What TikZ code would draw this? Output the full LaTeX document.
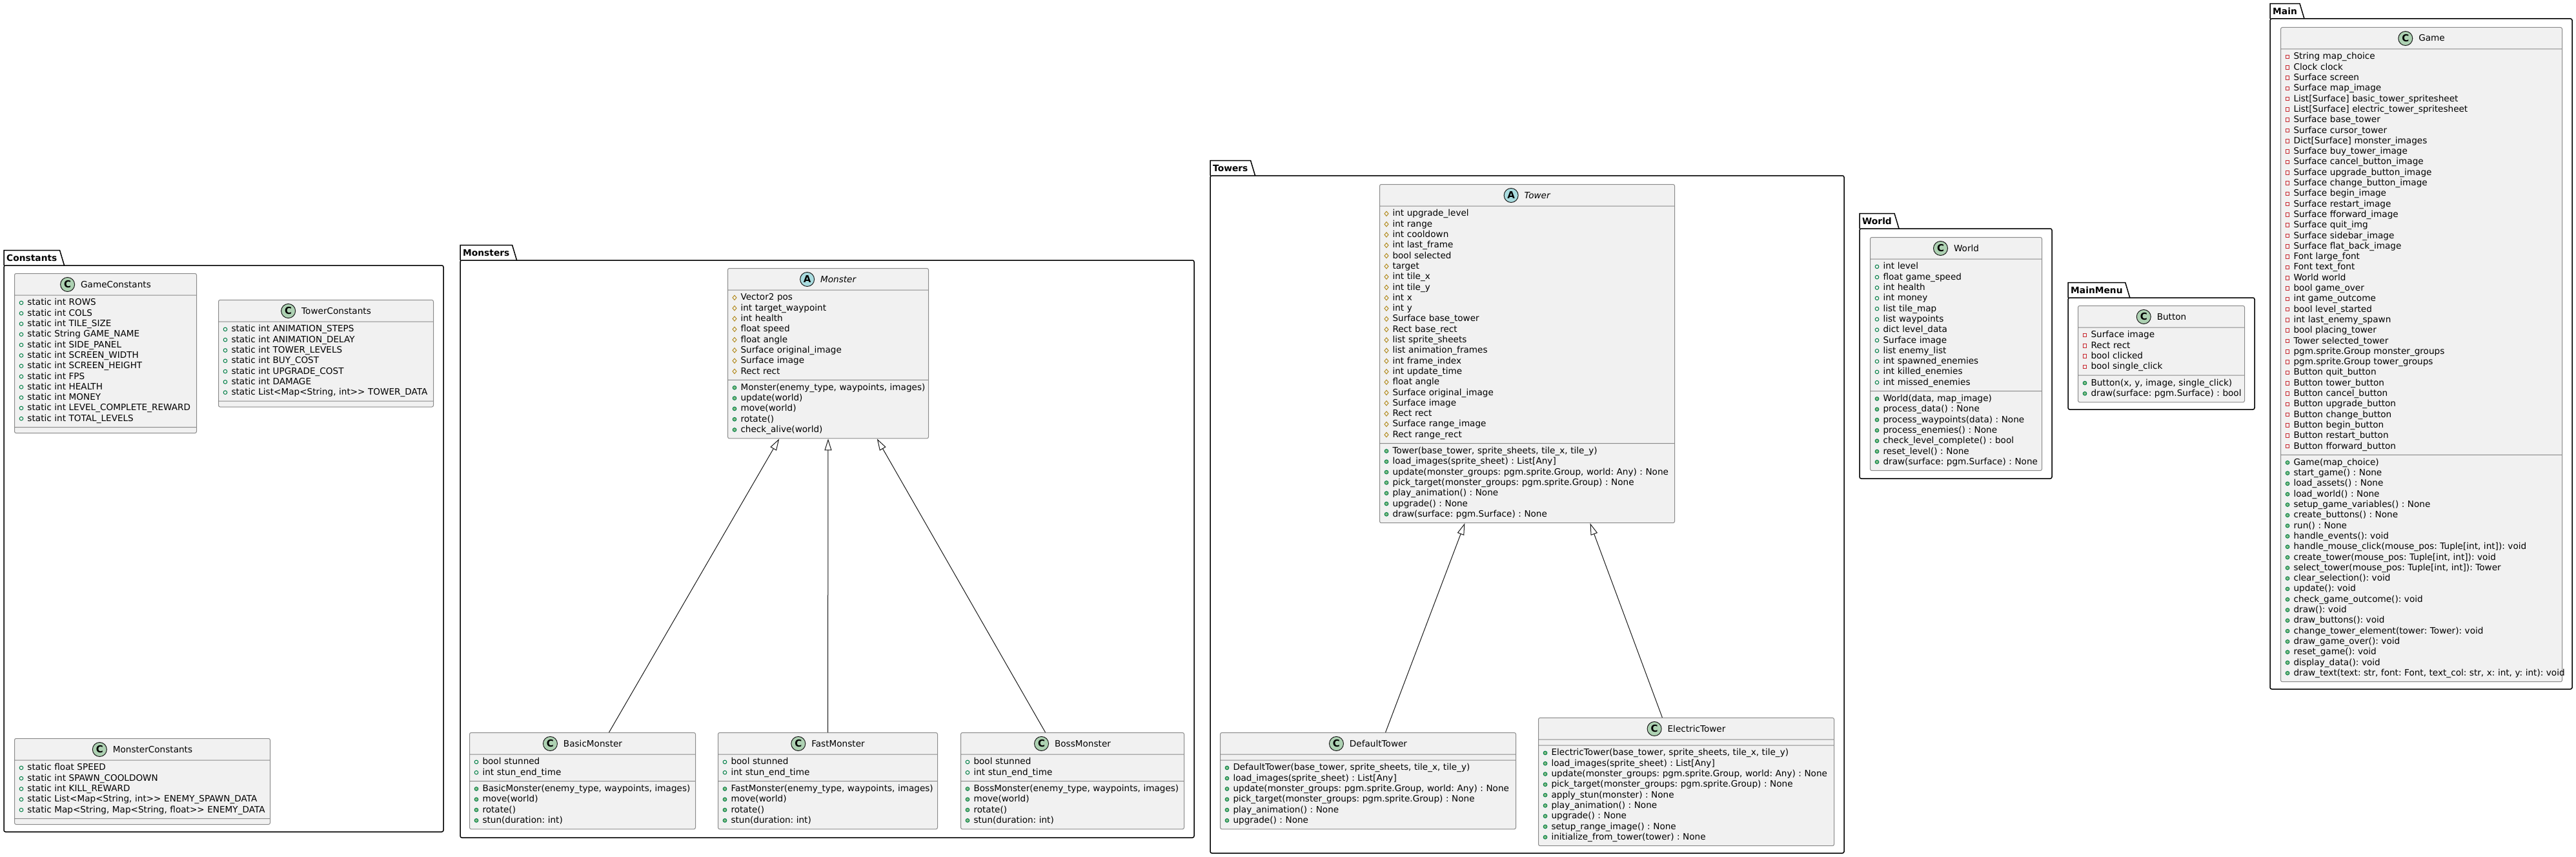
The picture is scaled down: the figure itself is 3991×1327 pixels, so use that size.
\documentclass[tikz,border=0pt]{standalone}
\usepackage{fontspec}
\setmainfont{DejaVu Sans}
\usepackage{xcolor}
\usetikzlibrary{shapes.multipart, arrows.meta, calc}
\frenchspacing
\definecolor{clsfill}{HTML}{F1F1F1}
\definecolor{clsline}{HTML}{181818}
\definecolor{clsedge}{HTML}{8A8A8A}
\definecolor{iconC}{HTML}{ADD1B2}
\definecolor{iconA}{HTML}{A9DCDF}
\definecolor{publine}{HTML}{038048}
\definecolor{pubfill}{HTML}{84BE84}
\definecolor{protline}{HTML}{B38D22}
\definecolor{privline}{HTML}{C82930}
\tikzset{
  umlclass/.style={rectangle split, rectangle split parts=3,
    rectangle split empty part height=0pt, rectangle split empty part depth=0pt,
    draw=clsedge, line width=1pt, fill=clsfill, rounded corners=2.5pt,
    inner xsep=7pt, inner ysep=4pt, anchor=north west, align=left,
    font=\fontsize{13.6pt}{16.3pt}\selectfont\frenchspacing},
  cw/.code={\pgfmathsetmacro\clsw{#1-14}\pgfkeysalso{text width=\clsw pt}},
  pkgline/.style={line width=1.5pt, draw=black},
  pkgtab/.style={anchor=south west, inner xsep=4pt, inner ysep=0pt, minimum height=23pt,
    font=\bfseries\fontsize{13.8pt}{16pt}\selectfont},
  extends/.style={draw=clsline, line width=1pt, -{Triangle[open, length=18pt, width=11pt]}}
}
% 可见性标记
\newcommand\mk[1]{\strut\makebox[7pt]{\tikz[baseline=-4pt]#1;}\hspace{6pt}}
\newcommand\pubf{\mk{\draw[draw=publine, line width=1pt] (0,0) circle (2.8pt)}}
\newcommand\pubm{\mk{\filldraw[draw=publine, fill=pubfill, line width=1pt] (0,0) circle (2.8pt)}}
\newcommand\prot{\mk{\draw[draw=protline, line width=1pt, sharp corners] (0,3.6pt) -- (3pt,0) -- (0,-3.6pt) -- (-3pt,0) -- cycle}}
\newcommand\priv{\mk{\draw[draw=privline, line width=1pt, sharp corners] (-2.8pt,-2.8pt) rectangle (2.8pt,2.8pt)}}
% 类头与成员
\newcommand\clsicon[2]{\tikz[baseline=-4.5pt]{\filldraw[draw=clsline, fill=#2, line width=1pt] (0,0) circle (11pt); \pgftext{\fontsize{15pt}{15pt}\selectfont\bfseries #1}}}
\newcommand\hdr[3]{\noindent\makebox[\hsize]{\vrule height 17pt depth 7.5pt width 0pt\clsicon{#1}{#2}\hspace{9pt}#3}}
\newcommand\rows[1]{\noindent\begin{tabular}{@{}l@{}}#1\end{tabular}}

\begin{document}
\begin{tikzpicture}[x=1pt, y=-1pt]
  \useasboundingbox (0,0) rectangle (3991,1327);
  % 包框
  \foreach \n/\lbl/\l/\t/\r/\b in {pkgConstants/Constants/6/411/687/1288,
      pkgMonsters/Monsters/713/403/1850/1297, pkgTowers/Towers/1875/272/2857/1321,
      pkgWorld/World/2881/354/3179/741, pkgMainMenu/MainMenu/3204/461/3493/634,
      pkgMain/Main/3517/29/3985/1067}{
    \node[pkgtab] (\n) at (\l,\t) {\lbl};
    \draw[pkgline] (\n.south west) -- (\n.north west) -- (\n.north east) -- ([xshift=7pt]\n.south east);
    \draw[pkgline, rounded corners=2.5pt] (\l,\t) rectangle (\r,\b);
  }
  % Constants
  \node[umlclass, cw=282] (GameConstants) at (22,423) {\hdr{C}{iconC}{GameConstants}
    \nodepart{two}\rows{\pubf static int ROWS\\ \pubf static int COLS\\ \pubf static int TILE\_SIZE\\
      \pubf static String GAME\_NAME\\ \pubf static int SIDE\_PANEL\\ \pubf static int SCREEN\_WIDTH\\
      \pubf static int SCREEN\_HEIGHT\\ \pubf static int FPS\\ \pubf static int HEALTH\\
      \pubf static int MONEY\\ \pubf static int LEVEL\_COMPLETE\_REWARD\\ \pubf static int TOTAL\_LEVELS}
    \nodepart{three}};
  \node[umlclass, cw=333] (TowerConstants) at (338,464) {\hdr{C}{iconC}{TowerConstants}
    \nodepart{two}\rows{\pubf static int ANIMATION\_STEPS\\ \pubf static int ANIMATION\_DELAY\\
      \pubf static int TOWER\_LEVELS\\ \pubf static int BUY\_COST\\ \pubf static int UPGRADE\_COST\\
      \pubf static int DAMAGE\\ \pubf static List<Map<String, int>{}> TOWER\_DATA}
    \nodepart{three}};
  \node[umlclass, cw=396] (MonsterConstants) at (22,1143) {\hdr{C}{iconC}{MonsterConstants}
    \nodepart{two}\rows{\pubf static float SPEED\\ \pubf static int SPAWN\_COOLDOWN\\
      \pubf static int KILL\_REWARD\\ \pubf static List<Map<String, int>{}> ENEMY\_SPAWN\_DATA\\
      \pubf static Map<String, Map<String, float>{}> ENEMY\_DATA}
    \nodepart{three}};
  % Monsters
  \node[umlclass, cw=311] (Monster) at (1127,415) {\hdr{A}{iconA}{\textit{Monster}}
    \nodepart{two}\rows{\prot Vector2 pos\\ \prot int target\_waypoint\\ \prot int health\\
      \prot float speed\\ \prot float angle\\ \prot Surface original\_image\\ \prot Surface image\\
      \prot Rect rect}
    \nodepart{three}\rows{\pubm Monster(enemy\_type, waypoints, images)\\ \pubm update(world)\\
      \pubm move(world)\\ \pubm rotate()\\ \pubm check\_alive(world)}};
  \node[umlclass, cw=350] (BasicMonster) at (727,1134) {\hdr{C}{iconC}{BasicMonster}
    \nodepart{two}\rows{\pubf bool stunned\\ \pubf int stun\_end\_time}
    \nodepart{three}\rows{\pubm BasicMonster(enemy\_type, waypoints, images)\\ \pubm move(world)\\
      \pubm rotate()\\ \pubm stun(duration: int)}};
  \node[umlclass, cw=340] (FastMonster) at (1112,1134) {\hdr{C}{iconC}{FastMonster}
    \nodepart{two}\rows{\pubf bool stunned\\ \pubf int stun\_end\_time}
    \nodepart{three}\rows{\pubm FastMonster(enemy\_type, waypoints, images)\\ \pubm move(world)\\
      \pubm rotate()\\ \pubm stun(duration: int)}};
  \node[umlclass, cw=346] (BossMonster) at (1488,1134) {\hdr{C}{iconC}{BossMonster}
    \nodepart{two}\rows{\pubf bool stunned\\ \pubf int stun\_end\_time}
    \nodepart{three}\rows{\pubm BossMonster(enemy\_type, waypoints, images)\\ \pubm move(world)\\
      \pubm rotate()\\ \pubm stun(duration: int)}};
  % Towers
  \node[umlclass, cw=457] (Tower) at (2137,285) {\hdr{A}{iconA}{\textit{Tower}}
    \nodepart{two}\rows{\prot int upgrade\_level\\ \prot int range\\ \prot int cooldown\\
      \prot int last\_frame\\ \prot bool selected\\ \prot target\\ \prot int tile\_x\\ \prot int tile\_y\\
      \prot int x\\ \prot int y\\ \prot Surface base\_tower\\ \prot Rect base\_rect\\
      \prot list sprite\_sheets\\ \prot list animation\_frames\\ \prot int frame\_index\\
      \prot int update\_time\\ \prot float angle\\ \prot Surface original\_image\\ \prot Surface image\\
      \prot Rect rect\\ \prot Surface range\_image\\ \prot Rect range\_rect}
    \nodepart{three}\rows{\pubm Tower(base\_tower, sprite\_sheets, tile\_x, tile\_y)\\
      \pubm load\_images(sprite\_sheet) : List[Any]\\
      \pubm update(monster\_groups: pgm.sprite.Group, world: Any) : None\\
      \pubm pick\_target(monster\_groups: pgm.sprite.Group) : None\\
      \pubm play\_animation() : None\\ \pubm upgrade() : None\\ \pubm draw(surface: pgm.Surface) : None}};
  \node[umlclass, cw=458] (DefaultTower) at (1890,1134) {\hdr{C}{iconC}{DefaultTower}
    \nodepart{two}
    \nodepart{three}\rows{\pubm DefaultTower(base\_tower, sprite\_sheets, tile\_x, tile\_y)\\
      \pubm load\_images(sprite\_sheet) : List[Any]\\
      \pubm update(monster\_groups: pgm.sprite.Group, world: Any) : None\\
      \pubm pick\_target(monster\_groups: pgm.sprite.Group) : None\\
      \pubm play\_animation() : None\\ \pubm upgrade() : None}};
  \node[umlclass, cw=458] (ElectricTower) at (2383,1111) {\hdr{C}{iconC}{ElectricTower}
    \nodepart{two}
    \nodepart{three}\rows{\pubm ElectricTower(base\_tower, sprite\_sheets, tile\_x, tile\_y)\\
      \pubm load\_images(sprite\_sheet) : List[Any]\\
      \pubm update(monster\_groups: pgm.sprite.Group, world: Any) : None\\
      \pubm pick\_target(monster\_groups: pgm.sprite.Group) : None\\
      \pubm apply\_stun(monster) : None\\ \pubm play\_animation() : None\\ \pubm upgrade() : None\\
      \pubm setup\_range\_image() : None\\ \pubm initialize\_from\_tower(tower) : None}};
  % World, MainMenu
  \node[umlclass, cw=266] (World) at (2897,367) {\hdr{C}{iconC}{World}
    \nodepart{two}\rows{\pubf int level\\ \pubf float game\_speed\\ \pubf int health\\ \pubf int money\\
      \pubf list tile\_map\\ \pubf list waypoints\\ \pubf dict level\_data\\ \pubf Surface image\\
      \pubf list enemy\_list\\ \pubf int spawned\_enemies\\ \pubf int killed\_enemies\\
      \pubf int missed\_enemies}
    \nodepart{three}\rows{\pubm World(data, map\_image)\\ \pubm process\_data() : None\\
      \pubm process\_waypoints(data) : None\\ \pubm process\_enemies() : None\\
      \pubm check\_level\_complete() : bool\\ \pubm reset\_level() : None\\
      \pubm draw(surface: pgm.Surface) : None}};
  \node[umlclass, cw=258] (Button) at (3219,473) {\hdr{C}{iconC}{Button}
    \nodepart{two}\rows{\priv Surface image\\ \priv Rect rect\\ \priv bool clicked\\ \priv bool single\_click}
    \nodepart{three}\rows{\pubm Button(x, y, image, single\_click)\\ \pubm draw(surface: pgm.Surface) : bool}};
  % Main
  \node[umlclass, cw=436] (Game) at (3533,42) {\hdr{C}{iconC}{Game}
    \nodepart{two}\rows{\priv String map\_choice\\ \priv Clock clock\\ \priv Surface screen\\
      \priv Surface map\_image\\ \priv List[Surface] basic\_tower\_spritesheet\\
      \priv List[Surface] electric\_tower\_spritesheet\\ \priv Surface base\_tower\\
      \priv Surface cursor\_tower\\ \priv Dict[Surface] monster\_images\\ \priv Surface buy\_tower\_image\\
      \priv Surface cancel\_button\_image\\ \priv Surface upgrade\_button\_image\\
      \priv Surface change\_button\_image\\ \priv Surface begin\_image\\ \priv Surface restart\_image\\
      \priv Surface fforward\_image\\ \priv Surface quit\_img\\ \priv Surface sidebar\_image\\
      \priv Surface flat\_back\_image\\ \priv Font large\_font\\ \priv Font text\_font\\
      \priv World world\\ \priv bool game\_over\\ \priv int game\_outcome\\ \priv bool level\_started\\
      \priv int last\_enemy\_spawn\\ \priv bool placing\_tower\\ \priv Tower selected\_tower\\
      \priv pgm.sprite.Group monster\_groups\\ \priv pgm.sprite.Group tower\_groups\\
      \priv Button quit\_button\\ \priv Button tower\_button\\ \priv Button cancel\_button\\
      \priv Button upgrade\_button\\ \priv Button change\_button\\ \priv Button begin\_button\\
      \priv Button restart\_button\\ \priv Button fforward\_button}
    \nodepart{three}\rows{\pubm Game(map\_choice)\\ \pubm start\_game() : None\\
      \pubm load\_assets() : None\\ \pubm load\_world() : None\\ \pubm setup\_game\_variables() : None\\
      \pubm create\_buttons() : None\\ \pubm run() : None\\ \pubm handle\_events(): void\\
      \pubm handle\_mouse\_click(mouse\_pos: Tuple[int, int]): void\\
      \pubm create\_tower(mouse\_pos: Tuple[int, int]): void\\
      \pubm select\_tower(mouse\_pos: Tuple[int, int]): Tower\\ \pubm clear\_selection(): void\\
      \pubm update(): void\\ \pubm check\_game\_outcome(): void\\ \pubm draw(): void\\
      \pubm draw\_buttons(): void\\ \pubm change\_tower\_element(tower: Tower): void\\
      \pubm draw\_game\_over(): void\\ \pubm reset\_game(): void\\ \pubm display\_data(): void\\
      \pubm draw\_text(text: str, font: Font, text\_col: str, x: int, y: int): void}};
  % 继承关系
  \draw[extends] ($(BasicMonster.north west)!.617!(BasicMonster.north east)$) -- ($(Monster.south west)!.257!(Monster.south east)$);
  \draw[extends] (FastMonster.north) -- (Monster.south);
  \draw[extends] ($(BossMonster.north west)!.379!(BossMonster.north east)$) -- ($(Monster.south west)!.743!(Monster.south east)$);
  \draw[extends] ($(DefaultTower.north west)!.559!(DefaultTower.north east)$) -- ($(Tower.south west)!.289!(Tower.south east)$);
  \draw[extends] ($(ElectricTower.north west)!.419!(ElectricTower.north east)$) -- ($(Tower.south west)!.713!(Tower.south east)$);
\end{tikzpicture}
\end{document}
